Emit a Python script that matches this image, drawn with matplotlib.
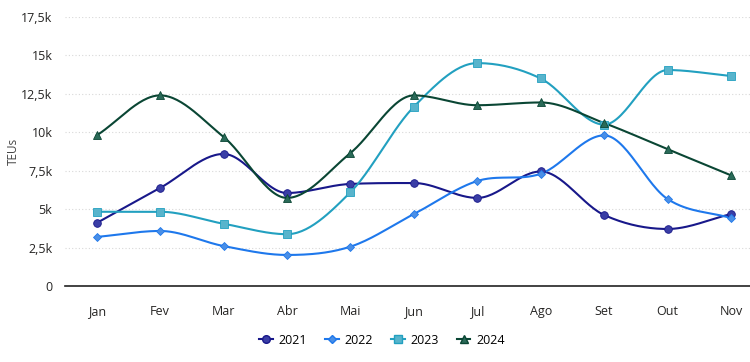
import numpy as np
import matplotlib
matplotlib.use("Agg")
import matplotlib.pyplot as plt
from matplotlib.ticker import FuncFormatter

plt.rcParams['font.family'] = ['Open Sans', 'DejaVu Sans']

months = ['Jan', 'Fev', 'Mar', 'Abr', 'Mai', 'Jun', 'Jul', 'Ago', 'Set', 'Out', 'Nov']
teu_2021 = [4.1, 6.38, 8.59, 6.05, 6.64, 6.70, 5.73, 7.45, 4.62, 3.71, 4.68]
teu_2022 = [3.19, 3.58, 2.6, 2.02, 2.56, 4.68, 6.83, 7.3, 9.8, 5.66, 4.42]
teu_2023 = [4.83, 4.83, 4.05, 3.37, 6.1, 11.66, 14.5, 13.5, 10.5, 14.05, 13.66]
teu_2024 = [9.8, 12.4, 9.7, 5.73, 8.65, 12.4, 11.76, 11.94, 10.6, 8.9, 7.2]

series = [
    ('2021', teu_2021, '#18188a', '#3a3ea6', 'o', 5.5),
    ('2022', teu_2022, '#1e78ec', '#4a8fe6', 'D', 3.8),
    ('2023', teu_2023, '#22a0c0', '#58b4cc', 's', 5.5),
    ('2024', teu_2024, '#0a4634', '#2a6a58', '^', 5.5),
]


def monotone(x, y, n=30):
    # monotone cubic (Fritsch-Carlson), like d3 curveMonotoneX
    x = np.asarray(x, float)
    y = np.asarray(y, float)
    h = np.diff(x)
    d = np.diff(y) / h
    m = np.zeros_like(y)
    m[0], m[-1] = d[0], d[-1]
    for i in range(1, len(y) - 1):
        if d[i - 1] * d[i] <= 0:
            m[i] = 0
        else:
            m[i] = (d[i - 1] + d[i]) / 2
            m[i] = np.sign(m[i]) * min(abs(m[i]), 3 * abs(d[i - 1]), 3 * abs(d[i]))
    xs, ys = [], []
    for i in range(len(y) - 1):
        t = np.linspace(0, 1, n, endpoint=False)
        h00 = 2 * t**3 - 3 * t**2 + 1
        h10 = t**3 - 2 * t**2 + t
        h01 = -2 * t**3 + 3 * t**2
        h11 = t**3 - t**2
        xs.append(x[i] + t * h[i])
        ys.append(h00 * y[i] + h10 * h[i] * m[i] + h01 * y[i + 1] + h11 * h[i] * m[i + 1])
    xs.append([x[-1]])
    ys.append([y[-1]])
    return np.concatenate(xs), np.concatenate(ys)


fig = plt.figure(figsize=(7.5, 3.62), dpi=100)
ax = fig.add_axes([65 / 750, 1 - 286 / 362, 685 / 750, 269 / 362])

x = np.arange(len(months))
for name, vals, lc, mc, mk, ms in series:
    sx, sy = monotone(x, vals)
    ax.plot(sx, sy, color=lc, lw=1.5, zorder=2)
    ax.plot(x, vals, linestyle='none', marker=mk, markersize=ms, color=mc,
            markeredgecolor=lc, markeredgewidth=0.6, zorder=3)

ax.set_xlim(-0.5, 10.3)
ax.set_ylim(0, 17.5)
ax.set_yticks(np.arange(0, 17.6, 2.5))
ax.yaxis.set_major_formatter(FuncFormatter(
    lambda v, p: '0' if v == 0 else (f'{v:g}k').replace('.', ',')))
ax.set_xticks(x)
ax.set_xticklabels(months)
ax.tick_params(axis='both', length=0, labelsize=9, colors='#252423')
ax.tick_params(axis='x', pad=14)
ax.tick_params(axis='y', pad=9)
ax.grid(axis='y', color='#d8d8d8', linestyle=(0, (1, 2)), lw=0.8)
ax.set_axisbelow(True)
for s in ['top', 'right', 'left']:
    ax.spines[s].set_visible(False)
ax.spines['bottom'].set_color('#222222')
ax.spines['bottom'].set_linewidth(1.2)
ax.set_ylabel('TEUs', fontsize=8.5, color='#444444')
ax.yaxis.set_label_coords(-45 / 685, 0.5)

handles = [plt.Line2D([], [], color=lc, lw=1.5, marker=mk, markersize=ms,
                      markerfacecolor=mc, markeredgecolor=lc)
           for _, _, lc, mc, mk, ms in series]
fig.legend(handles, [s[0] for s in series], loc='center', bbox_to_anchor=(382 / 750, 1 - 340 / 362),
           ncol=4, frameon=False, fontsize=9, handlelength=1.1, columnspacing=1.4, handletextpad=0.5)

fig.savefig('out.png', dpi=100)
